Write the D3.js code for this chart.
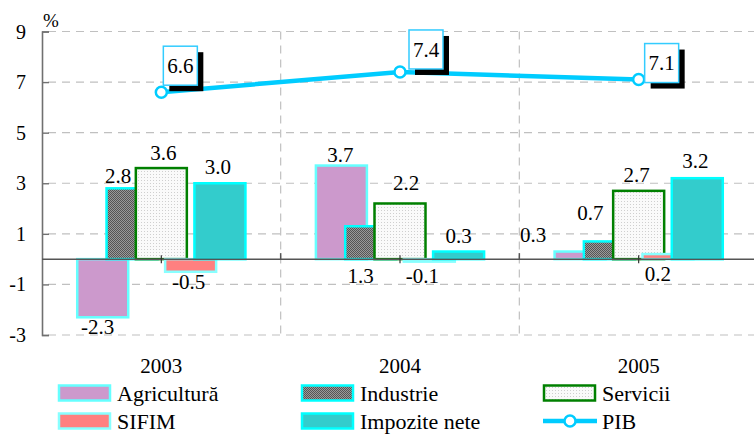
<!DOCTYPE html>
<html><head><meta charset="utf-8">
<script src="https://cdn.jsdelivr.net/npm/d3@7"></script>
</head><body style="margin:0;background:#fff">
<svg id="c" width="754" height="435" style="display:block"></svg>
<script>
const years = ["2003","2004","2005"];
const seriesNames = ["Agricultură","Industrie","Servicii","SIFIM","Impozite nete"];
const agricultura = [-2.3, 3.7, 0.3];
const industrie = [2.8, 1.3, 0.7];
const servicii = [3.6, 2.2, 2.7];
const sifim = [-0.5, -0.1, 0.2];
const impozite = [3.0, 0.3, 3.2];
const pib = [6.6, 7.4, 7.1];
const yTicks = [9, 7, 5, 3, 1, -1, -3];

// label nudges [dx, dy] relative to bar centre / bar end (layout only)
const labelNudge = [
  [[-5, 9], [-1, -11], [-47, -17]],
  [[-14, -13], [-10, 50], [-19, -29]],
  [[2, -15], [6, -21], [-2, -16]],
  [[-2, 10], [-7, 14], [-10, 20]],
  [[-2, -17], [0, -16], [-2, -18]]
];
const pibBox = [[2, -46], [9, -42], [6, -36]];

const svg = d3.select("#c");
const x = d3.scaleBand().domain(years).range([42, 758]);
const y = d3.scaleLinear().domain([-3, 9]).range([335, 31.5]);
const inner = d3.scalePoint().domain(d3.range(5)).range([-58.6, 58.6]);
const barW = 51;

const styles = [
  {fill: "#cc99cc", stroke: "#66ffff"},
  {fill: "url(#pInd)", stroke: "#00ffff"},
  {fill: "url(#pSer)", stroke: "#008000"},
  {fill: "#ff8080", stroke: "#88ffff"},
  {fill: "#33cccc", stroke: "#00ffff"}
];
const defs = svg.append("defs");
const p1 = defs.append("pattern").attr("id","pInd").attr("width",2).attr("height",2).attr("patternUnits","userSpaceOnUse");
p1.append("rect").attr("width",2).attr("height",2).attr("fill","#9a9a9a");
p1.append("rect").attr("width",1).attr("height",1).attr("fill","#555");
p1.append("rect").attr("x",1).attr("y",1).attr("width",1).attr("height",1).attr("fill","#555");
const p2 = defs.append("pattern").attr("id","pSer").attr("width",3).attr("height",3).attr("patternUnits","userSpaceOnUse");
p2.append("rect").attr("width",3).attr("height",3).attr("fill","#fafafa");
p2.append("rect").attr("width",1).attr("height",1).attr("fill","#cfcfcf");

// grid
const dash = "8,6";
svg.append("g").selectAll("line").data(yTicks).join("line")
  .attr("x1", 48).attr("x2", 758).attr("y1", d => y(d)).attr("y2", d => y(d))
  .attr("stroke", "#c0c0c0").attr("stroke-width", 1.2).attr("stroke-dasharray", dash);
svg.append("g").selectAll("line").data(years.slice(1)).join("line")
  .attr("x1", d => x(d)).attr("x2", d => x(d)).attr("y1", y(9)).attr("y2", y(-3))
  .attr("stroke", "#c0c0c0").attr("stroke-width", 1.2).attr("stroke-dasharray", dash);

// y axis
const yAxis = svg.append("g").attr("transform", "translate(42,0)")
  .call(d3.axisRight(y).tickValues(yTicks).tickSize(7).tickFormat(""));
yAxis.select(".domain").attr("stroke", "#707070").attr("stroke-width", 1.6);
yAxis.selectAll(".tick line").attr("stroke", "#707070").attr("stroke-width", 1.4);
svg.append("g").selectAll("text").data(yTicks).join("text")
  .attr("x", 26).attr("y", d => y(d)).attr("dy", "0.35em").attr("text-anchor", "end")
  .attr("font-size", 20).text(d => d);
svg.append("text").attr("x", 43).attr("y", 27).attr("font-size", 19).text("%");

// bars
const allSeries = [agricultura, industrie, servicii, sifim, impozite];
allSeries.forEach((vals, si) => {
  svg.append("g").selectAll("rect").data(vals).join("rect")
    .attr("x", (d, i) => x(years[i]) + x.bandwidth()/2 + inner(si) - barW/2)
    .attr("width", barW)
    .attr("y", d => y(Math.max(0, d)))
    .attr("height", d => Math.abs(y(d) - y(0)))
    .attr("fill", styles[si].fill).attr("stroke", styles[si].stroke)
    .attr("stroke-width", 2.5);
});

// zero line
svg.append("line").attr("x1", 42).attr("x2", 758).attr("y1", y(0)).attr("y2", y(0))
  .attr("stroke", "#555").attr("stroke-width", 1.5);
svg.append("g").selectAll("line").data(years).join("line")
  .attr("x1", d => x(d) + x.bandwidth()/2).attr("x2", d => x(d) + x.bandwidth()/2)
  .attr("y1", y(0) - 4).attr("y2", y(0) + 4).attr("stroke", "#333").attr("stroke-width", 1.2);
svg.append("g").selectAll("line").data(years.slice(1)).join("line")
  .attr("x1", d => x(d)).attr("x2", d => x(d))
  .attr("y1", y(0) - 6).attr("y2", y(0)).attr("stroke", "#555").attr("stroke-width", 1.5);

// bar labels
allSeries.forEach((vals, si) => {
  svg.append("g").selectAll("text").data(vals).join("text")
    .attr("x", (d, i) => x(years[i]) + x.bandwidth()/2 + inner(si) + labelNudge[si][i][0])
    .attr("y", (d, i) => (si === 1 && i === 1 ? y(0) : y(d)) + labelNudge[si][i][1] - (si === 1 && i === 1 ? 33 : 0))
    .attr("dy", "0.35em").attr("text-anchor", "middle").attr("font-size", 21)
    .text(d => d.toFixed(1));
});

// PIB line
const cx = i => x(years[i]) + x.bandwidth()/2;
svg.append("path").datum(pib)
  .attr("d", d3.line().x((d, i) => cx(i)).y(d => y(d)))
  .attr("fill", "none").attr("stroke", "#00ccff").attr("stroke-width", 4.5);
svg.append("g").selectAll("circle").data(pib).join("circle")
  .attr("cx", (d, i) => cx(i)).attr("cy", d => y(d)).attr("r", 5.5)
  .attr("fill", "#fff").attr("stroke", "#00ccff").attr("stroke-width", 2.5);

// PIB callouts
const bw = 34, bh = 39;
const call = svg.append("g").selectAll("g").data(pib).join("g")
  .attr("transform", (d, i) => `translate(${cx(i) + pibBox[i][0]},${y(d) + pibBox[i][1]})`);
call.append("rect").attr("x", 6).attr("y", 6).attr("width", bw).attr("height", bh).attr("fill", "#000");
call.append("rect").attr("width", bw).attr("height", bh).attr("fill", "#fff")
  .attr("stroke", "#33ccff").attr("stroke-width", 1.5);
call.append("text").attr("x", bw/2).attr("y", bh/2).attr("dy", "0.35em")
  .attr("text-anchor", "middle").attr("font-size", 21).text(d => d.toFixed(1));

// x labels
svg.append("g").selectAll("text").data(years).join("text")
  .attr("x", d => x(d) + x.bandwidth()/2).attr("y", 366).attr("dy", "0.35em")
  .attr("text-anchor", "middle").attr("font-size", 21).text(d => d);

// legend
const legendItems = [
  {name: seriesNames[0], s: 0, col: 0, row: 0},
  {name: seriesNames[1], s: 1, col: 1, row: 0},
  {name: seriesNames[2], s: 2, col: 2, row: 0},
  {name: seriesNames[3], s: 3, col: 0, row: 1},
  {name: seriesNames[4], s: 4, col: 1, row: 1},
  {name: "PIB", s: -1, col: 2, row: 1}
];
const colX = [58, 301, 543], rowY = [393, 421];
const lg = svg.append("g").selectAll("g").data(legendItems).join("g")
  .attr("transform", d => `translate(${colX[d.col]},${rowY[d.row]})`);
lg.filter(d => d.s >= 0).append("rect").attr("x", 1).attr("y", -7.5).attr("width", 51).attr("height", 15)
  .attr("fill", d => styles[d.s].fill).attr("stroke", d => styles[d.s].stroke).attr("stroke-width", 2.5);
const pl = lg.filter(d => d.s < 0);
pl.append("line").attr("x1", 0).attr("x2", 54).attr("stroke", "#00ccff").attr("stroke-width", 4.5);
pl.append("circle").attr("cx", 27).attr("r", 5.5).attr("fill", "#fff").attr("stroke", "#00ccff").attr("stroke-width", 2.5);
lg.append("text").attr("x", 59).attr("y", 0).attr("dy", "0.35em")
  .attr("font-size", 22).text(d => d.name);

svg.selectAll("text").style("font-family", '"Liberation Serif"').style("fill", "#000");
</script></body></html>
